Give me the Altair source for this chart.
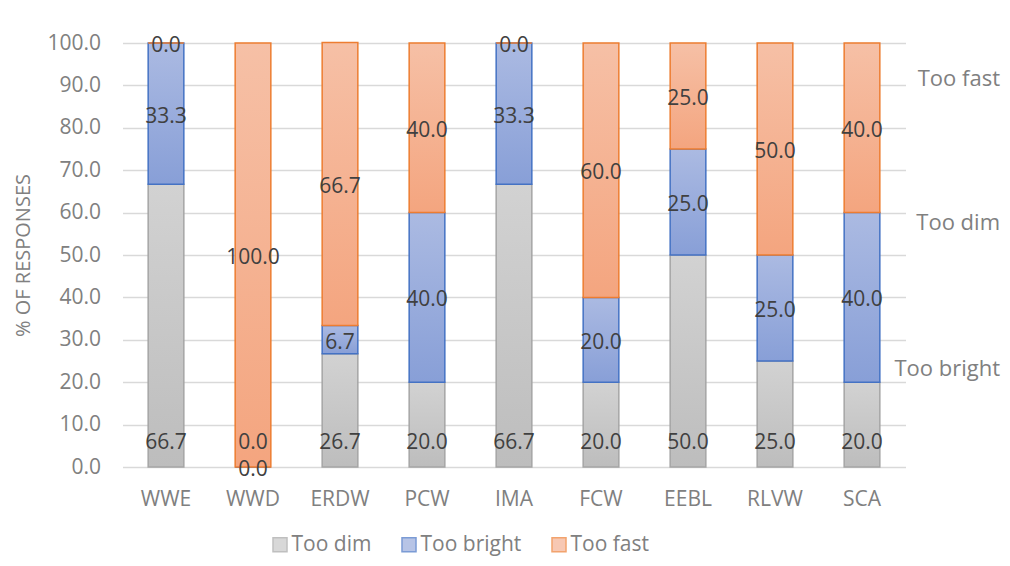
import altair as alt
import pandas as pd

# ---- data ----
categories = ["WWE", "WWD", "ERDW", "PCW", "IMA", "FCW", "EEBL", "RLVW", "SCA"]
too_dim = [66.7, 0.0, 26.7, 20.0, 66.7, 20.0, 50.0, 25.0, 20.0]
too_bright = [33.3, 0.0, 6.7, 40.0, 33.3, 20.0, 25.0, 25.0, 40.0]
too_fast = [0.0, 100.0, 66.7, 40.0, 0.0, 60.0, 25.0, 50.0, 40.0]
series_names = ["Too dim", "Too bright", "Too fast"]

ann_labels = ["Too fast", "Too dim", "Too bright"]
ann_values = [91.5, 57.5, 23.1]

rows = []
for i, c in enumerate(categories):
    for k, (s, vals) in enumerate(zip(series_names, [too_dim, too_bright, too_fast])):
        rows.append({"cat": c, "series": s, "value": vals[i], "order": k})
df = pd.DataFrame(rows)
ann = pd.DataFrame({"label": ann_labels, "v": ann_values})

FONT = "Open Sans"
AX = "#808080"
LBL = "#404040"

mid_colors = ["#c8c8c8", "#9aacdc", "#f5b293"]
border_colors = ["#a5a5a5", "#4472c4", "#ed7d31"]
grads = [
    ("#d2d2d2", "#bdbdbd"),
    ("#abbae2", "#889fd7"),
    ("#f6c0a6", "#f4a57f"),
]

x_scale = alt.Scale(domain=categories, paddingInner=0.59, paddingOuter=0.295)
y_scale = alt.Scale(domain=[0, 100], nice=False, zero=True)

x_axis = alt.Axis(title=None, labelFont=FONT, labelFontSize=21, labelColor=AX,
                  labelPadding=21, ticks=False, tickSize=0, domain=False,
                  grid=False, labelAngle=0)
y_axis = alt.Axis(title="% OF RESPONSES", format=".1f", values=list(range(0, 101, 10)),
                  labelFont=FONT, labelFontSize=21, labelColor=AX, labelPadding=22,
                  ticks=False, tickSize=0, domain=False, grid=True,
                  gridColor="#d9d9d9", gridWidth=1.5,
                  titleFont=FONT, titleFontSize=20, titleColor=AX,
                  titleFontWeight="normal", titleAngle=270, titleX=-99, titleY=212,
                  titleAlign="center", titleBaseline="middle")

X = alt.X("cat:N", scale=x_scale, axis=x_axis, sort=categories)

base = alt.Chart(df).transform_stack(
    stack="value", as_=["y0", "y1"], groupby=["cat"], sort=[alt.SortField("order")]
).transform_calculate(mid="(datum.y0 + datum.y1) / 2")

layers = []
for k, s in enumerate(series_names):
    g = alt.LinearGradient(
        gradient="linear",
        stops=[alt.GradientStop(color=grads[k][0], offset=0),
               alt.GradientStop(color=grads[k][1], offset=1)],
        x1=0, x2=0, y1=0, y2=1,
    )
    layers.append(
        base.transform_filter(alt.datum.series == s)
        .mark_bar(fill=g, stroke=border_colors[k], strokeWidth=1.5)
        .encode(
            x=X,
            y=alt.Y("y1:Q", scale=y_scale, axis=y_axis),
            y2="y0:Q",
        )
    )

# labels: dim at inside base, others centered
dim_labels = base.transform_filter(alt.datum.series == "Too dim").mark_text(
    font=FONT, fontSize=21, color=LBL, baseline="middle", align="center", dy=-24
).encode(
    x=X,
    y=alt.Y("y0:Q", scale=y_scale, axis=y_axis),
    text=alt.Text("value:Q", format=".1f"),
)
other_labels = base.transform_filter(alt.datum.series != "Too dim").mark_text(
    font=FONT, fontSize=21, color=LBL, baseline="middle", align="center", dy=3
).encode(
    x=X,
    y=alt.Y("mid:Q", scale=y_scale, axis=y_axis),
    text=alt.Text("value:Q", format=".1f"),
)

legend = alt.Legend(orient="none", legendX=147, legendY=491, direction="horizontal",
                    title=None, symbolType="square", symbolSize=196,
                    symbolStrokeWidth=1.5, labelFont=FONT, labelFontSize=21,
                    labelColor=AX, labelOffset=1, columnPadding=27)
legend_layer = alt.Chart(df).transform_filter("false").mark_square(filled=True).encode(
    fill=alt.Fill("series:N", scale=alt.Scale(domain=series_names, range=mid_colors), legend=legend),
    stroke=alt.Stroke("series:N", scale=alt.Scale(domain=series_names, range=border_colors), legend=legend),
)

ann_layer = alt.Chart(ann).mark_text(
    font=FONT, fontSize=22, color=AX, align="right", baseline="middle"
).encode(
    x=alt.value(877.5),
    y=alt.Y("v:Q", scale=y_scale, axis=y_axis),
    text="label:N",
)

chart = alt.layer(*layers, dim_labels, other_labels, ann_layer, legend_layer).properties(
    width=783, height=424,
    autosize=alt.AutoSizeParams(type="none"),
    padding={"left": 114.5, "top": 35, "right": 96.5, "bottom": 91},
    background="white",
).configure_view(stroke=None)

chart.save("out.html", embed_options={"renderer": "svg", "actions": False})
